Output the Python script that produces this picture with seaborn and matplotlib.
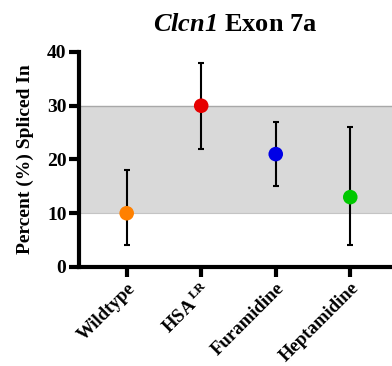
import matplotlib
matplotlib.use("Agg")
import matplotlib.pyplot as plt
import seaborn as sns
import pandas as pd

# Percent spliced in for each condition, with lower/upper error limits
conditions = ["Wildtype", "HSA$^{\\,\\mathbf{LR}}$", "Furamidine", "Heptamidine"]
psi = [10, 30, 21, 13]
err_low = [4, 22, 15, 4]
err_high = [18, 38, 27, 26]
colors = ["#ff8000", "#e60000", "#0000e6", "#00c800"]
band = (10, 30)

sns.set_theme(style="white")
plt.rcParams["font.family"] = ["Liberation Serif", "DejaVu Serif"]
plt.rcParams["font.weight"] = "bold"
plt.rcParams["text.color"] = "black"
plt.rcParams["axes.labelcolor"] = "black"
plt.rcParams["xtick.color"] = "black"
plt.rcParams["ytick.color"] = "black"
plt.rcParams["mathtext.fontset"] = "custom"
plt.rcParams["mathtext.rm"] = "Liberation Serif:bold"
plt.rcParams["mathtext.bf"] = "Liberation Serif:bold"
plt.rcParams["mathtext.sf"] = "Liberation Serif:italic:bold"

df = pd.DataFrame({"condition": conditions, "psi": psi})

fig = plt.figure(figsize=(3.92, 3.66), dpi=100)
ax = fig.add_axes([0.2015, 0.2705, 0.7985, 0.5875])

ax.axhspan(band[0], band[1], color="#d9d9d9", zorder=0, lw=0)
ax.axhline(band[1], color="#a8a8a8", lw=1, zorder=0.5)
ax.axhline(band[0], color="#c4c4c4", lw=0.8, zorder=0.5)

x = list(range(len(conditions)))
yerr = [[p - lo for p, lo in zip(psi, err_low)], [hi - p for p, hi in zip(psi, err_high)]]
ax.errorbar(x, psi, yerr=yerr, fmt="none", ecolor="black", elinewidth=1.5,
            capsize=2.5, capthick=1.5, zorder=2)

sns.scatterplot(data=df, x="condition", y="psi", hue="condition", palette=colors,
                s=110, edgecolor="none", legend=False, ax=ax, zorder=3)

ax.set_xlim(-0.64, 3.56)
ax.set_ylim(0, 40)
ax.set_yticks([0, 10, 20, 30, 40])
ax.set_xticks(x)
ax.set_xticklabels(conditions, rotation=45, ha="right", rotation_mode="anchor",
                   fontsize=13.5, fontweight="bold", color="black")
for lab in ax.get_yticklabels():
    lab.set_fontsize(14)
    lab.set_fontweight("bold")
    lab.set_color("black")

ax.set_xlabel("")
ax.set_ylabel("Percent (%) Spliced In", fontsize=14, fontweight="bold", labelpad=9,
              color="black")
ax.set_title("$\\mathsf{Clcn1}$ Exon 7a", fontsize=19, fontweight="bold", pad=15,
             color="black")

for side in ["top", "right"]:
    ax.spines[side].set_visible(False)
for side in ["left", "bottom"]:
    ax.spines[side].set_linewidth(3)
    ax.spines[side].set_color("black")
ax.tick_params(axis="both", which="major", direction="out", length=7, width=3,
               color="black", pad=2, left=True, bottom=True)

fig.savefig("out.png", dpi=100)
